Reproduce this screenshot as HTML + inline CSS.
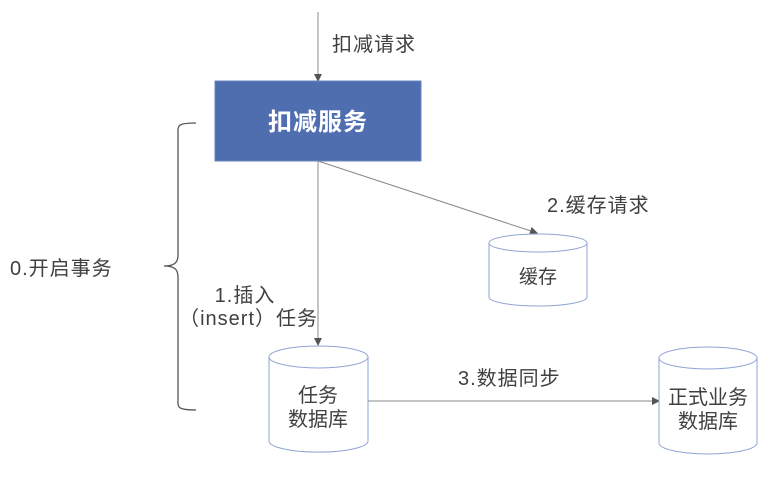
<!DOCTYPE html>
<html><head><meta charset="utf-8"><style>
html,body{margin:0;padding:0;background:#fff;}
svg{display:block;}
text{font-family:"Liberation Sans","Noto Sans CJK SC",sans-serif;fill:#404040;}
</style></head><body>
<svg width="763" height="478" viewBox="0 0 763 478" xmlns="http://www.w3.org/2000/svg">
<defs><marker id="a" markerWidth="8" markerHeight="8" refX="7" refY="4" orient="auto" markerUnits="userSpaceOnUse"><path d="M0,0 L8,4 L0,8 z" fill="#555"/></marker></defs>
<line x1="318" y1="12" x2="318" y2="81" stroke="#888" stroke-width="1" marker-end="url(#a)"/>
<text x="332" y="51" font-size="20" letter-spacing="1">扣减请求</text>
<rect x="215" y="81" width="206" height="80" fill="#4f6eb0" stroke="#6a86c0"/>
<text x="318" y="130" font-size="24" font-weight="bold" text-anchor="middle" letter-spacing="1" style="fill:#fff">扣减服务</text>
<line x1="318" y1="161" x2="537" y2="233" stroke="#888" marker-end="url(#a)"/>
<text x="547" y="212" font-size="20" letter-spacing="1">2.缓存请求</text>
<line x1="318" y1="161" x2="318" y2="345" stroke="#888" marker-end="url(#a)"/>
<path d="M196,123 C176,123 178,126 178,135 L178,255 C178,263 174,266 164,266 C174,266 178,269 178,277 L178,398 C178,407 176,410 196,410" fill="none" stroke="#555" stroke-width="1.3"/>
<text x="10" y="275" font-size="20" letter-spacing="1">0.开启事务</text>
<text x="245" y="302" font-size="20" text-anchor="middle" letter-spacing="1">1.插入</text>
<text x="318" y="325" font-size="20" text-anchor="end" letter-spacing="1">（insert）任务</text>
<!-- cache -->
<path d="M489,243 L489,297 A49,9 0 0 0 587,297 L587,243" fill="#fff" stroke="#8fa3d4"/>
<ellipse cx="538" cy="243" rx="49" ry="9" fill="#fff" stroke="#8fa3d4"/>
<text x="538" y="283" font-size="19" text-anchor="middle">缓存</text>
<!-- task db -->
<path d="M269,357 L269,441 A49,11 0 0 0 368,441 L368,357" fill="#fff" stroke="#8fa3d4"/>
<ellipse cx="318.5" cy="357" rx="49.5" ry="11" fill="#fff" stroke="#8fa3d4"/>
<text x="318" y="402" font-size="20" text-anchor="middle">任务</text>
<text x="318" y="426" font-size="20" text-anchor="middle">数据库</text>
<line x1="368" y1="401" x2="659" y2="401" stroke="#888" marker-end="url(#a)"/>
<text x="458" y="385" font-size="20" letter-spacing="1">3.数据同步</text>
<!-- business db -->
<path d="M659,358 L659,443 A49,11 0 0 0 757,443 L757,358" fill="#fff" stroke="#8fa3d4"/>
<ellipse cx="708" cy="358" rx="49" ry="11" fill="#fff" stroke="#8fa3d4"/>
<text x="708" y="404" font-size="20" text-anchor="middle">正式业务</text>
<text x="708" y="428" font-size="20" text-anchor="middle">数据库</text>
</svg>
</body></html>
